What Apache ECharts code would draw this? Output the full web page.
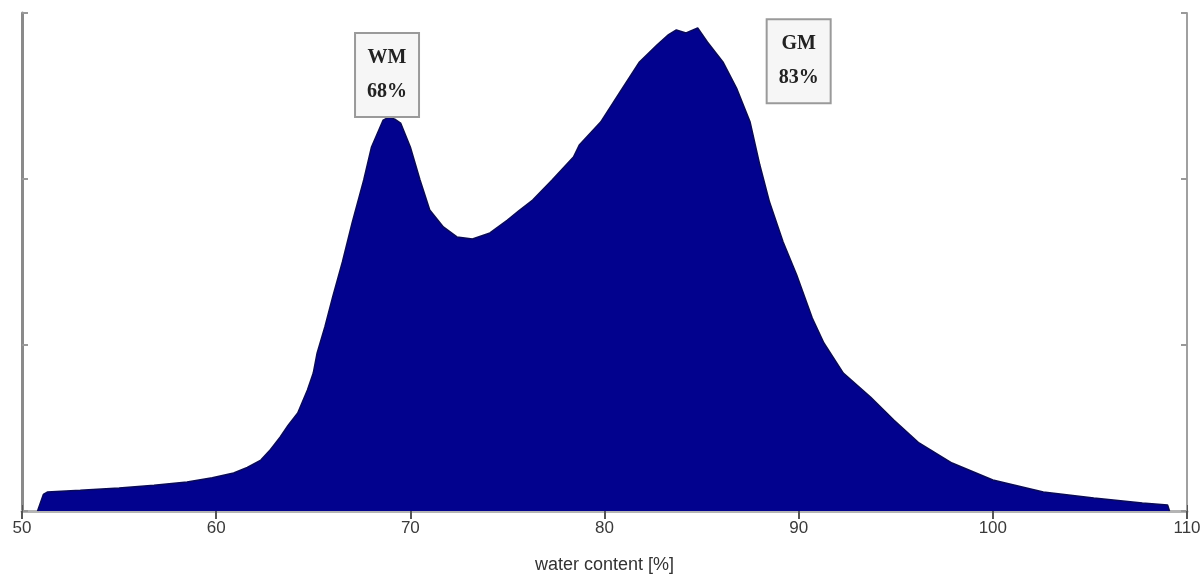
<!DOCTYPE html>
<html>
<head>
<meta charset="utf-8">
<script src="https://cdn.jsdelivr.net/npm/echarts@6/dist/echarts.min.js"></script>
<style>
  html, body { margin: 0; padding: 0; background: #fff; }
  #main { width: 1204px; height: 581px; }
</style>
</head>
<body>
<div id="main"></div>
<script>
// histogram outline: water content [%] and voxel counts
var waterContent = [50.8, 51.1, 51.3, 53.0, 55.0, 56.8, 58.5, 59.8, 60.9, 61.6, 62.3, 62.8, 63.3, 63.7, 64.2, 64.7,
  65.0, 65.2, 65.6, 66.0, 66.5, 67.0, 67.6, 68.0, 68.6, 68.9, 69.2, 69.5, 70.0, 70.5, 71.0, 71.7,
  72.4, 73.2, 74.1, 75.0, 75.6, 76.3, 77.3, 78.4, 78.7, 79.8, 80.8, 81.8, 82.7, 83.3, 83.7, 84.2,
  84.8, 85.3, 86.1, 86.8, 87.5, 88.0, 88.5, 89.2, 89.9, 90.7, 91.3, 92.3, 93.7, 94.9, 96.2, 97.9,
  100.0, 102.6, 105.2, 107.7, 109.0, 109.1];
var counts = [0, 100, 114, 125, 139, 155, 175, 200, 229, 262, 307, 370, 446, 515, 590, 729,
  831, 952, 1110, 1289, 1500, 1735, 1994, 2193, 2355, 2373, 2360, 2337, 2193, 1994, 1813, 1711,
  1651, 1639, 1675, 1753, 1810, 1873, 1994, 2132, 2205, 2343, 2524, 2705, 2807, 2870, 2898, 2880,
  2910, 2825, 2705, 2548, 2343, 2084, 1861, 1620, 1422, 1163, 1012, 831, 687, 548, 410, 289,
  187, 114, 78, 48, 36, 0];

var xTicks = [50, 60, 70, 80, 90, 100, 110];
var peakLabels = ['WM\n68%', 'GM\n83%'];
var peakSpots = [[68.8, 2627], [90.0, 2710]];

var myChart = echarts.init(document.getElementById('main'));

var points = [];
for (var i = 0; i < waterContent.length; i++) {
  points.push([waterContent[i], counts[i]]);
}

var boxLabel = {
  show: true,
  position: 'inside',
  fontFamily: 'Liberation Serif',
  fontWeight: 'bold',
  fontSize: 20,
  lineHeight: 34,
  color: '#222',
  backgroundColor: '#f6f6f6',
  borderColor: '#9a9a9a',
  borderWidth: 2,
  padding: [7, 11, 7, 11],
  formatter: function (p) { return p.name; }
};

var option = {
  animation: false,
  grid: { left: 22, right: 17, top: 13, bottom: 70 },
  xAxis: [
    {
      type: 'value',
      min: xTicks[0],
      max: xTicks[xTicks.length - 1],
      interval: 10,
      name: 'water content [%]',
      nameLocation: 'middle',
      nameGap: 45,
      nameTextStyle: { fontFamily: 'Liberation Sans', fontSize: 18, color: '#333' },
      axisLine: { lineStyle: { color: '#9a9a9a', width: 2 } },
      axisTick: { inside: true, length: 6, lineStyle: { color: '#555' } },
      axisLabel: { fontFamily: 'Liberation Sans', fontSize: 17, color: '#3a3a3a', margin: 9 },
      splitLine: { show: false }
    },
    {
      type: 'value',
      position: 'top',
      min: xTicks[0],
      max: xTicks[xTicks.length - 1],
      interval: 10,
      axisLine: { lineStyle: { color: '#b4b4b4', width: 3 } },
      axisTick: { inside: true, length: 8, lineStyle: { color: '#555', width: 2 } },
      axisLabel: { show: false },
      splitLine: { show: false }
    }
  ],
  yAxis: [
    {
      type: 'value',
      min: 0,
      max: 3000,
      interval: 1000,
      axisLine: { show: true, lineStyle: { color: '#8a8a8a', width: 3 } },
      axisTick: { show: true, inside: true, length: 6, lineStyle: { color: '#999', width: 2 } },
      axisLabel: { show: false },
      splitLine: { show: false }
    },
    {
      type: 'value',
      position: 'right',
      min: 0,
      max: 3000,
      interval: 1000,
      axisLine: { show: true, lineStyle: { color: '#a0a0a0', width: 2 } },
      axisTick: { show: true, inside: true, length: 6, lineStyle: { color: '#999', width: 2 } },
      axisLabel: { show: false },
      splitLine: { show: false }
    }
  ],
  series: [
    {
      type: 'line',
      data: points,
      showSymbol: false,
      lineStyle: { color: '#0a0a55', width: 1.5 },
      areaStyle: { color: '#02028e', opacity: 1 },
      markPoint: {
        symbol: 'rect',
        symbolSize: 1,
        itemStyle: { color: 'rgba(0,0,0,0)' },
        label: boxLabel,
        data: [
          { name: peakLabels[0], coord: peakSpots[0] },
          { name: peakLabels[1], coord: peakSpots[1] }
        ]
      }
    }
  ]
};

myChart.setOption(option);
</script>
</body>
</html>
